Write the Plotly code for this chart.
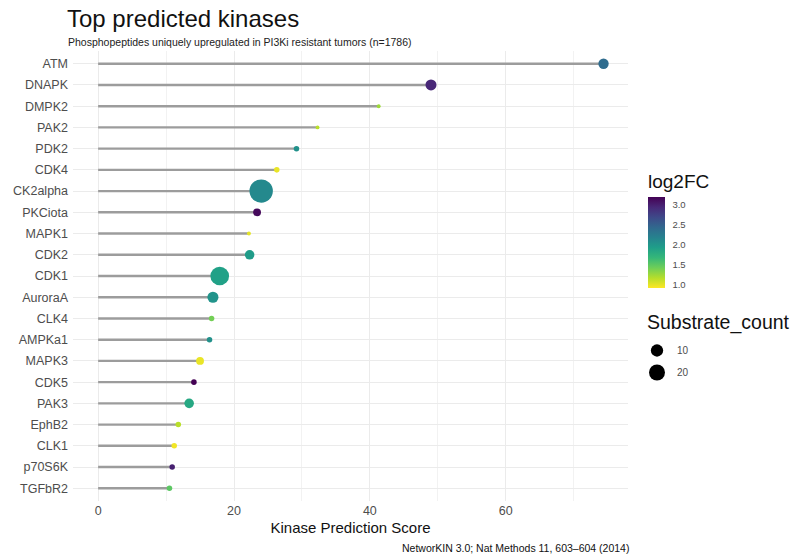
import numpy as np
import plotly.graph_objects as go

# Kinases ranked by NetworKIN prediction score
kinases = ["ATM", "DNAPK", "DMPK2", "PAK2", "PDK2", "CDK4", "CK2alpha", "PKCiota",
           "MAPK1", "CDK2", "CDK1", "AuroraA", "CLK4", "AMPKa1", "MAPK3", "CDK5",
           "PAK3", "EphB2", "CLK1", "p70S6K", "TGFbR2"]
score = [74.4, 49.0, 41.3, 32.3, 29.2, 26.3, 24.0, 23.4,
         22.2, 22.3, 17.9, 16.9, 16.7, 16.4, 15.0, 14.1,
         13.4, 11.8, 11.2, 10.9, 10.5]
log2fc = [2.4, 2.95, 1.25, 1.15, 2.05, 0.98, 2.12, 3.15,
          1.0, 1.95, 1.9, 2.02, 1.4, 2.05, 0.98, 3.2,
          1.83, 1.15, 0.95, 3.0, 1.5]
substrate_count = [7, 8, 1, 1, 2, 2, 36, 4,
                   1, 6, 23, 8, 2, 2, 4, 2,
                   6, 2, 2, 2, 2]
size_legend_values = [10, 20]
colorbar_ticks = [1.0, 1.5, 2.0, 2.5, 3.0]

FONT = "Liberation Sans, Arial, sans-serif"

# plot area in pixels (for placing text outside the panel)
L, R, T, B = 73, 165, 51, 57
W, H = 793, 558
PW, PH = W - L - R, H - T - B


def px_x(px):
    return (px - L) / PW


def px_y(py):
    return (H - B - py) / PH


def point_diameter(n):
    # area-proportional point size
    return 3.9 * np.sqrt(np.asarray(n, dtype=float))


fig = go.Figure()

# lollipop stems from 0 to each score
stem_x, stem_y = [], []
for k, s in zip(kinases, score):
    stem_x += [0, s, None]
    stem_y += [k, k, None]
fig.add_trace(go.Scatter(
    x=stem_x, y=stem_y, mode="lines",
    line=dict(color="#9c9c9c", width=2.4),
    hoverinfo="skip", showlegend=False,
))

# lollipop heads coloured by log2FC and sized by substrate count
fig.add_trace(go.Scatter(
    x=score, y=kinases, mode="markers",
    marker=dict(
        size=point_diameter(substrate_count),
        color=log2fc,
        colorscale="Viridis",
        reversescale=True,
        cmin=0.91, cmax=3.2,
        line=dict(width=0),
        opacity=1,
        colorbar=dict(
            title=dict(text="log2FC", side="top",
                       font=dict(family=FONT, size=19, color="#111")),
            thickness=17, len=93 + 24, lenmode="pixels",
            x=px_x(648), xanchor="left", xref="paper",
            y=px_y(288), yanchor="bottom", ypad=0, xpad=0,
            tickvals=colorbar_ticks, tickformat=".1f",
            ticks="outside", ticklen=6, tickcolor="white",
            tickfont=dict(family=FONT, size=9.5, color="#4d4d4d"),
            outlinewidth=0,
        ),
    ),
    showlegend=False,
    hovertemplate="%{y}: %{x}<extra></extra>",
))

# size legend entries
for v in size_legend_values:
    fig.add_trace(go.Scatter(
        x=[None], y=[None], mode="markers", name=str(v),
        legendgroup=f"n{v}",
        marker=dict(size=float(point_diameter(v)), color="black"),
        showlegend=True,
    ))

fig.update_layout(
    width=W, height=H,
    margin=dict(l=L, r=R, t=T, b=B),
    paper_bgcolor="white", plot_bgcolor="white",
    font=dict(family=FONT, color="#4d4d4d"),
    legend=dict(
        x=px_x(637), xanchor="left", y=px_y(336), yanchor="top",
        itemsizing="trace", tracegroupgap=3,
        font=dict(family=FONT, size=10, color="#4d4d4d"),
        bgcolor="rgba(0,0,0,0)",
    ),
    xaxis=dict(
        range=[-3.7, 78.0],
        tickvals=[0, 20, 40, 60],
        showgrid=True, gridcolor="#ebebeb", gridwidth=1.1,
        minor=dict(tickvals=[10, 30, 50, 70], showgrid=True, gridcolor="#f2f2f2", gridwidth=0.6),
        zeroline=False, showline=False,
        tickfont=dict(family=FONT, size=12.5, color="#4d4d4d"),
        title=dict(text="Kinase Prediction Score", standoff=5,
                   font=dict(family=FONT, size=15, color="#111")),
        ticks="",
    ),
    yaxis=dict(
        type="category",
        categoryorder="array", categoryarray=kinases,
        range=[len(kinases) - 0.4, -0.6],
        showgrid=True, gridcolor="#ebebeb", gridwidth=1.1,
        zeroline=False, showline=False, ticks="",
        tickfont=dict(family=FONT, size=12.5, color="#4d4d4d"),
        ticklabelstandoff=4,
    ),
    annotations=[
        dict(text="Top predicted kinases",
             xref="paper", yref="paper", x=px_x(65), y=px_y(18),
             xanchor="left", yanchor="middle", showarrow=False,
             font=dict(family=FONT, size=24, color="#111")),
        dict(text="Phosphopeptides uniquely upregulated in PI3Ki resistant tumors (n=1786)",
             xref="paper", yref="paper", x=px_x(66), y=px_y(42),
             xanchor="left", yanchor="middle", showarrow=False,
             font=dict(family=FONT, size=10.5, color="#222")),
        dict(text="Substrate_count",
             xref="paper", yref="paper", x=px_x(645), y=px_y(322),
             xanchor="left", yanchor="middle", showarrow=False,
             font=dict(family=FONT, size=19.5, color="#111")),
        dict(text="NetworKIN 3.0; Nat Methods 11, 603\u2013604 (2014)",
             xref="paper", yref="paper", x=px_x(631), y=px_y(548),
             xanchor="right", yanchor="middle", showarrow=False,
             font=dict(family=FONT, size=10.5, color="#111")),
    ],
)

fig.write_html("out.html")
